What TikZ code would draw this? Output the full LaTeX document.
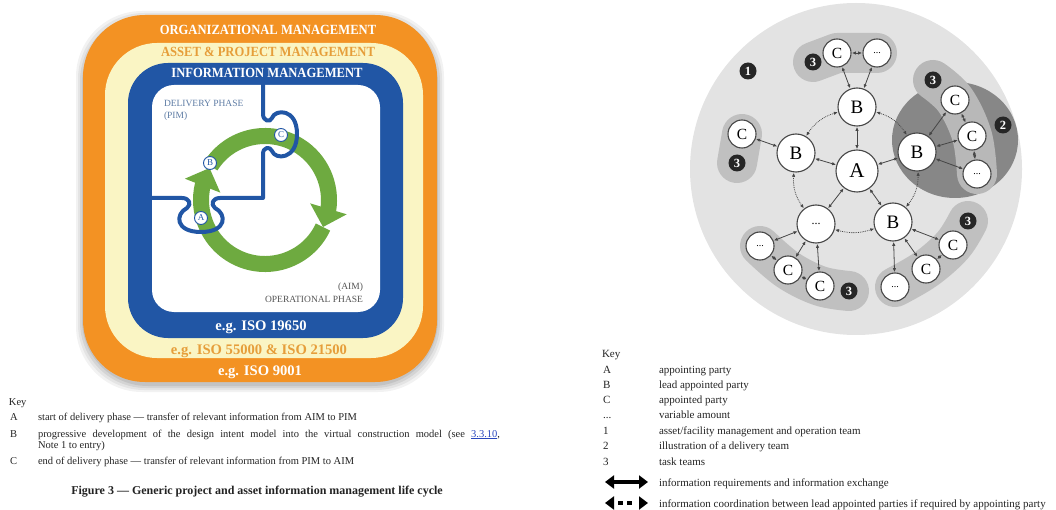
\documentclass[tikz,border=0pt]{standalone}
\usepackage{fontspec}
\setmainfont{Liberation Serif}
\usetikzlibrary{arrows.meta,bending}

\definecolor{orgorange}{RGB}{243,146,35}
\definecolor{cream}{RGB}{250,245,196}
\definecolor{assetink}{RGB}{230,158,58}
\definecolor{imblue}{RGB}{33,86,165}
\definecolor{ringgreen}{RGB}{110,170,64}
\definecolor{phaseblue}{RGB}{95,125,165}
\definecolor{phasegrey}{RGB}{85,85,85}
\definecolor{linkblue}{RGB}{40,70,190}
\definecolor{keyink}{RGB}{35,35,35}
\definecolor{plate}{RGB}{227,227,227}
\definecolor{teamgrey}{RGB}{192,192,192}
\definecolor{deliverygrey}{RGB}{135,135,135}
\definecolor{bandgrey}{RGB}{184,184,184}
\definecolor{rim}{RGB}{70,70,70}

\newcommand{\setsz}[1]{\fontsize{#1}{#1}\selectfont}

\begin{document}
\begin{tikzpicture}[x=1pt,y=-1pt,
  lbl/.style={inner sep=0pt,outer sep=0pt},
  title/.style={lbl,anchor=base,font=\setsz{14}\bfseries},
  stdtext/.style={lbl,anchor=base,font=\setsz{14.6}\bfseries},
  ptlabel/.style={circle,draw=imblue,fill=white,line width=0.9pt,inner sep=0pt,minimum size=13pt,text=imblue,font=\setsz{9}},
  puzzle/.style={draw=imblue,line width=4pt,line join=round,line cap=round},
  ring/.style={draw=ringgreen,line width=16pt,-{Triangle[width=37pt,length=19pt]}},
  party/.style={circle,draw=rim,fill=white,line width=1.1pt,inner sep=0pt},
  lead/.style={party,minimum size=38pt,font=\setsz{19}},
  client/.style={party,minimum size=42pt,font=\setsz{21}},
  member/.style={party,minimum size=28pt,font=\setsz{15.5}},
  badge/.style={circle,fill=black!85,text=white,inner sep=0pt,minimum size=17pt,font=\setsz{12.5}\bfseries},
  team/.style={draw=teamgrey,line width=40pt,line cap=round,line join=round},
  flow/.style={draw=rim,line width=0.8pt,{Latex[length=4pt,width=3.4pt]}-{Latex[length=4pt,width=3.4pt]},shorten <=0.3pt,shorten >=0.3pt},
  coord/.style={flow,densely dotted},
  keyt/.style={lbl,anchor=base west,text=keyink,font=\setsz{10.5}},
  rkeyt/.style={keyt,font=\setsz{11}},
  keyarrow/.style={draw=black,line width=3.2pt,{Triangle[width=13pt,length=9pt]}-{Triangle[width=13pt,length=9pt]}},
]
\useasboundingbox (0,0) rectangle (1056,510);

% ---------- life cycle frame ----------
\foreach \g/\o in {7/0.05,5/0.06,3/0.07,1/0.08}{
  \fill[black,opacity=\o,rounded corners=66pt] (83-\g,15-\g+3) rectangle (437+\g,382+\g+3);
}
\fill[orgorange,rounded corners=62pt] (83,15) rectangle (437,382);
\fill[cream,rounded corners=52pt] (105,43) rectangle (423,358);
\fill[imblue,rounded corners=40pt] (128,63) rectangle (403,338);
\fill[white,rounded corners=22pt] (152,85) rectangle (380,312);

% circular life cycle arrows
\coordinate (hub) at (265,200);
\draw[ring] (hub) ++(25:64) arc[start angle=25,end angle=210,radius=64];
\draw[ring] (hub) ++(212:64) arc[start angle=212,end angle=385,radius=64];

% border between delivery and operational phase
\draw[puzzle] (263,82) -- (263,114)
  .. controls (263,121) and (270,123) .. (272,118)
  .. controls (275,109) and (297,108) .. (297,134)
  .. controls (297,160) and (275,160) .. (272,151)
  .. controls (270,146) and (263,147) .. (263,154)
  -- (263,198) -- (220,198)
  .. controls (213,198) and (210,204) .. (215,208)
  .. controls (227,214) and (227,232) .. (201,232)
  .. controls (175,232) and (175,214) .. (187,208)
  .. controls (192,204) and (189,198) .. (182,198)
  -- (149,198);

\node[ptlabel] (ptA) at (201,218) {A};
\node[ptlabel] (ptB) at (210,163) {B};
\node[ptlabel] (ptC) at (281,135) {C};

\node[title,text=white] (tOrg) at (268,35) {\scalebox{0.9}[1]{ORGANIZATIONAL MANAGEMENT}};
\node[title,text=assetink] (tAsset) at (268,57) {\scalebox{0.9}[1]{ASSET \& PROJECT MANAGEMENT}};
\node[title,text=white] (tInfo) at (267,78) {\scalebox{0.9}[1]{INFORMATION MANAGEMENT}};
\node[stdtext,text=white] (std1) at (261,330) {e.g. ISO 19650};
\node[stdtext,text=assetink] (std2) at (259,354) {e.g. ISO 55000 \& ISO 21500};
\node[stdtext,text=white] (std3) at (260,375) {e.g. ISO 9001};

\node[lbl,anchor=base west,text=phaseblue,font=\setsz{9.5}] (dp1) at (164,107) {DELIVERY PHASE};
\node[lbl,anchor=base west,text=phaseblue,font=\setsz{9.5}] (dp2) at (164,119) {(PIM)};
\node[lbl,anchor=base east,text=phasegrey,font=\setsz{9.5}] (op1) at (363,289) {(AIM)};
\node[lbl,anchor=base east,text=phasegrey,font=\setsz{9.5}] (op2) at (363,302) {OPERATIONAL PHASE};

% key of the life cycle
\node[keyt] (k0) at (9,405) {Key};
\node[keyt] (kA) at (10,420) {A};
\node[keyt] (kAt) at (38,420) {start of delivery phase — transfer of relevant information from AIM to PIM};
\node[keyt] (kB) at (10,437) {B};
\node[keyt] (kBt) at (38,437) {\makebox[462pt][s]{progressive development of the design intent model into the virtual construction model (see \textcolor{linkblue}{\underline{3.3.10}},}};
\node[keyt] (kBt2) at (38,448) {Note 1 to entry)};
\node[keyt] (kC) at (10,464) {C};
\node[keyt] (kCt) at (38,464) {end of delivery phase — transfer of relevant information from PIM to AIM};
\node[lbl,anchor=base,font=\setsz{12}\bfseries,text=keyink] (cap) at (257,494) {Figure 3 — Generic project and asset information management life cycle};

% ---------- delivery team plate ----------
\fill[plate] (856,169) circle[radius=166];

\coordinate (pA) at (857,171);
\coordinate (pBt) at (857,107);
\coordinate (pBl) at (796,153);
\coordinate (pBr) at (917,152);
\coordinate (pBd) at (816,224);
\coordinate (pBlr) at (893,222);
\coordinate (pCt) at (837,53);
\coordinate (pDt) at (877,53);
\coordinate (pNt) at (813,62);
\coordinate (pCl) at (742,134);
\coordinate (pNl) at (737,163);
\coordinate (pCr1) at (955,100);
\coordinate (pCr2) at (972,136);
\coordinate (pDr) at (977,174);
\coordinate (pNr) at (933,80);
\coordinate (pDll) at (760,246);
\coordinate (pCll1) at (788,270);
\coordinate (pCll2) at (820,286);
\coordinate (pNll) at (849,291);
\coordinate (pDlr) at (895,287);
\coordinate (pClr1) at (926,269);
\coordinate (pClr2) at (953,245);
\coordinate (pNlr) at (968,221);

% task team areas
\draw[team] (pNt) -- (pCt) -- (pDt);
\draw[team] (pCl) -- (pNl);
\draw[team] plot[smooth,tension=0.6] coordinates {(pDll) (pCll1) (pCll2) (pNll)};
\draw[team] plot[smooth,tension=0.6] coordinates {(pDlr) (pClr1) (pClr2) (pNlr)};
% delivery team area
\fill[deliverygrey] (955,140) ellipse[x radius=63,y radius=58];
\draw[team,draw=bandgrey] plot[smooth,tension=0.6] coordinates {(pNr) (pCr1) (pCr2) (pDr)};

% parties
\node[client] (A) at (pA) {A};
\node[lead] (Bt) at (pBt) {B};
\node[lead] (Bl) at (pBl) {B};
\node[lead] (Br) at (pBr) {B};
\node[lead,font=\setsz{12}] (Bd) at (pBd) {...};
\node[lead] (Blr) at (pBlr) {B};
\node[member] (Ct) at (pCt) {C};
\node[member,font=\setsz{10}] (Dt) at (pDt) {...};
\node[member] (Cl) at (pCl) {C};
\node[member] (Cr1) at (pCr1) {C};
\node[member] (Cr2) at (pCr2) {C};
\node[member,font=\setsz{10}] (Dr) at (pDr) {...};
\node[member,font=\setsz{10}] (Dll) at (pDll) {...};
\node[member] (Cll1) at (pCll1) {C};
\node[member] (Cll2) at (pCll2) {C};
\node[member,font=\setsz{10}] (Dlr) at (pDlr) {...};
\node[member] (Clr1) at (pClr1) {C};
\node[member] (Clr2) at (pClr2) {C};

\node[badge] (n1) at (748,71) {1};
\node[badge] (n2) at (1003,125) {2};
\node[badge] (n3t) at (pNt) {3};
\node[badge] (n3l) at (pNl) {3};
\node[badge] (n3r) at (pNr) {3};
\node[badge] (n3ll) at (pNll) {3};
\node[badge] (n3lr) at (pNlr) {3};

% information exchange
\draw[flow] (A) -- (Bt);
\draw[flow] (A) -- (Bl);
\draw[flow] (A) -- (Br);
\draw[flow] (A) -- (Bd);
\draw[flow] (A) -- (Blr);
\draw[flow] (Bt) -- (Ct);
\draw[flow] (Bt) -- (Dt);
\draw[flow] (Ct) -- (Dt);
\draw[flow] (Bl) -- (Cl);
\draw[flow] (Br) -- (Cr1);
\draw[flow] (Br) -- (Cr2);
\draw[flow] (Br) -- (Dr);
\draw[flow] (Cr1) -- (Cr2);
\draw[flow] (Cr2) -- (Dr);
\draw[flow] (Bd) -- (Dll);
\draw[flow] (Bd) -- (Cll1);
\draw[flow] (Bd) -- (Cll2);
\draw[flow] (Dll) -- (Cll1);
\draw[flow] (Cll1) -- (Cll2);
\draw[flow] (Blr) -- (Dlr);
\draw[flow] (Blr) -- (Clr1);
\draw[flow] (Blr) -- (Clr2);
\draw[flow] (Clr1) -- (Clr2);

% coordination between lead appointed parties
\draw[coord] (Bt) to[bend right=22] (Bl);
\draw[coord] (Bt) to[bend left=22] (Br);
\draw[coord] (Bl) to[bend right=22] (Bd);
\draw[coord] (Br) to[bend left=22] (Blr);
\draw[coord] (Bd) to[bend right=18] (Blr);

% key of the delivery team
\node[rkeyt] (rk0) at (602,357) {Key};
\node[rkeyt] (rkA) at (603,373) {A};
\node[rkeyt] (rkAt) at (659,373) {appointing party};
\node[rkeyt] (rkB) at (603,388) {B};
\node[rkeyt] (rkBt) at (659,388) {lead appointed party};
\node[rkeyt] (rkC) at (603,403) {C};
\node[rkeyt] (rkCt) at (659,403) {appointed party};
\node[rkeyt] (rkD) at (603,418) {...};
\node[rkeyt] (rkDt) at (659,418) {variable amount};
\node[rkeyt] (rk1) at (603,434) {1};
\node[rkeyt] (rk1t) at (659,434) {asset/facility management and operation team};
\node[rkeyt] (rk2) at (603,449) {2};
\node[rkeyt] (rk2t) at (659,449) {illustration of a delivery team};
\node[rkeyt] (rk3) at (603,465) {3};
\node[rkeyt] (rk3t) at (659,465) {task teams};

\coordinate (ka1) at (605,482);
\coordinate (ka2) at (648,482);
\draw[keyarrow] (ka1) -- (ka2);
\node[rkeyt] (rkat) at (659,486) {information requirements and information exchange};
\coordinate (kb1) at (605,503);
\coordinate (kb2) at (648,503);
\draw[keyarrow,dash pattern=on 0pt off 5pt on 5pt off 4pt on 5pt off 30pt] (kb1) -- (kb2);
\node[rkeyt] (rkbt) at (659,507) {information coordination between lead appointed parties if required by appointing party};
\end{tikzpicture}
\end{document}
